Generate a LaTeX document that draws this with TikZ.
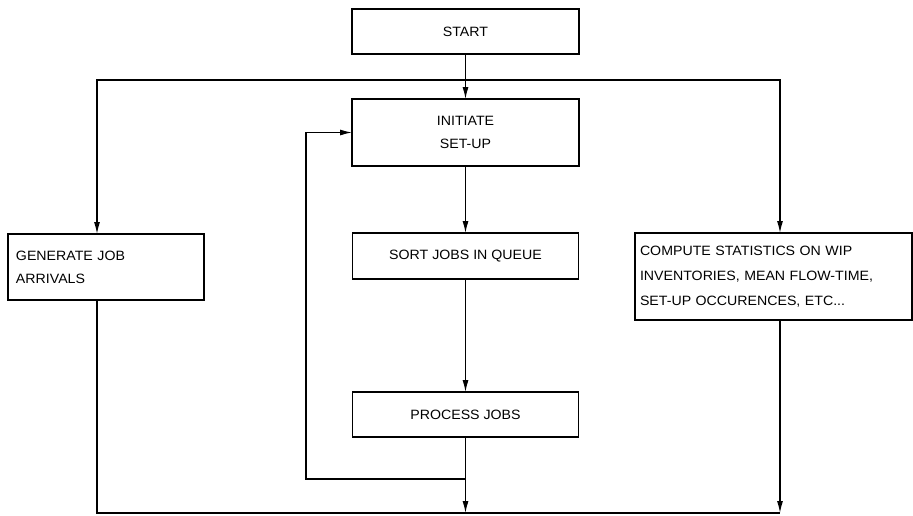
\documentclass[tikz,border=0pt]{standalone}
\usepackage{fontspec}
\setmainfont{Liberation Sans}[FakeStretch=1.05]
\usetikzlibrary{arrows.meta}
\begin{document}
\begin{tikzpicture}[x=1pt,y=-1pt,
  box/.style={draw, line width=1.2pt, inner sep=0pt, outer sep=0pt, font=\fontsize{13.5}{23}\selectfont},
  arr/.style={-{Latex[length=12pt,width=6pt]}},
  ln/.style={line width=1.2pt}]
\useasboundingbox (0,0) rectangle (913,515);
\node[box, minimum width=227pt, minimum height=45pt] (start) at (465.5,31.5) {START};
\node[box, minimum width=227pt, minimum height=67pt, align=center] (init) at (465.5,132.5) {INITIATE\\SET-UP};
\node[box, minimum width=226pt, minimum height=46pt] (sort) at (465.5,256) {SORT JOBS IN QUEUE};
\node[box, minimum width=226pt, minimum height=45pt] (proc) at (465.5,414.5) {PROCESS JOBS};
\node[box, text width=180pt, inner xsep=8pt, minimum height=66pt, align=left] (gen) at (106,267) {GENERATE JOB\\ARRIVALS};
\node[box, text width=267pt, inner xsep=5pt, minimum height=87pt, align=left, font=\fontsize{13.5}{25}\selectfont] (comp) at (773.5,276.5) {COMPUTE STATISTICS ON WIP\\INVENTORIES, MEAN FLOW-TIME,\\SET-UP OCCURENCES, ETC...};
\coordinate (j1) at (465.5,80);
\coordinate (j2) at (465.5,479);
\coordinate (loop) at (306,479);
\coordinate (b) at (465.5,513);
\coordinate (bl) at (97,513);
\coordinate (br) at (780,513);
\draw[ln,arr] (start.south) -- (init.north);
\draw[ln,arr] (j1) -| ([xshift=89pt]gen.north west);
\draw[ln,arr] (j1) -| ([xshift=145pt]comp.north west);
\draw[ln,arr] (init.south) -- (sort.north);
\draw[ln,arr] (sort.south) -- (proc.north);
\draw[ln,arr] (proc.south) -- (b);
\draw[ln,arr] (j2) -- (loop) |- (init.west);
\draw[ln] ([xshift=89pt]gen.south west) -- (bl) -- (br);
\draw[ln,arr] ([xshift=145pt]comp.south west) -- (br);
\end{tikzpicture}
\end{document}
